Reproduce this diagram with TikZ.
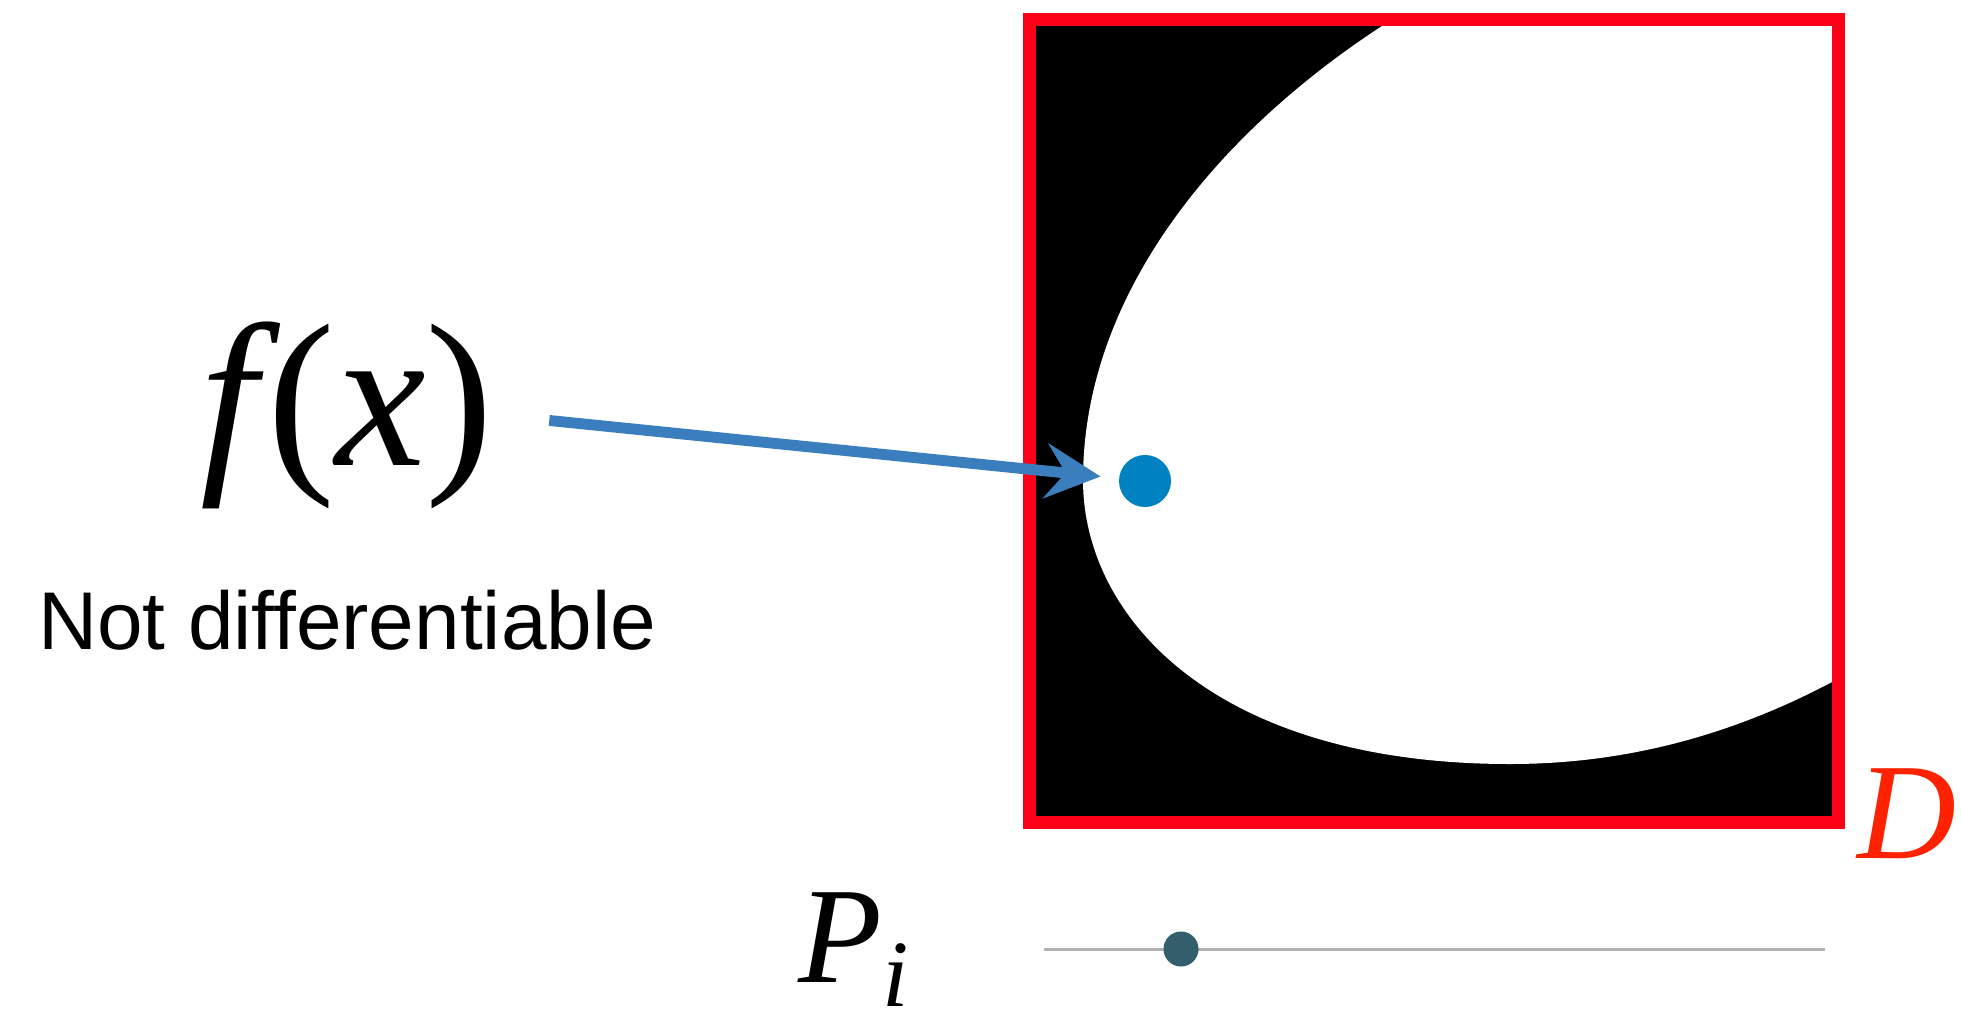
\documentclass[tikz,border=0pt]{standalone}
\usepackage{fontspec}
\newfontfamily\labelsans{Liberation Sans}
\newfontfamily\labelserif{Liberation Serif}
\definecolor{boxRed}{HTML}{FF0019}
\definecolor{labelRed}{HTML}{FF2200}
\definecolor{arrowBlue}{HTML}{3A7EBD}
\definecolor{dotBlue}{HTML}{0081C1}
\definecolor{knobTeal}{HTML}{335E6B}
\usepackage{tikz}
\usetikzlibrary{arrows.meta, positioning}

\begin{document}
\begin{tikzpicture}[x=0.01cm, y=-0.01cm,
  bigmath/.style={inner sep=0pt, font=\labelserif\fontsize{58}{66}\selectfont},
  sidemath/.style={inner sep=0pt, font=\labelserif\itshape\fontsize{39}{46}\selectfont},
  note/.style={inner sep=0pt, font=\labelsans\fontsize{23.3}{28}\selectfont},
  marker/.style={circle, inner sep=0pt, minimum size=#1},
  pointer/.style={-{Stealth[length=5.5mm, width=5.5mm, inset=2mm]},
    line width=3.1pt, draw=arrowBlue, shorten <=5.5mm, shorten >=1.8mm}]
  \useasboundingbox (0,0) rectangle (1961,1027);
  \fill[black] (1029,19.5) rectangle (1838,822);
  \fill[white] (1382,26) .. controls (1215,135) and (1083,296) .. (1083,480)
    .. controls (1083,616) and (1213,764) .. (1510,764)
    .. controls (1620,764) and (1726,738) .. (1832,682)
    -- (1838,682) -- (1838,19.5) -- (1382,19.5) -- cycle;
  \draw[boxRed, line width=3.7pt] (1029,19.5) rectangle (1838,822);
  \node[bigmath, anchor=base] (fx) at (347,465) {\textit{f\kern3pt}(\textit{x})};
  \node[note, below=8.0mm of fx] (nd) {Not differentiable};
  \node[marker=5.2mm, fill=dotBlue] (dot) at (1145,481) {};
  \draw[pointer] (fx.east) -- (dot);
  \node[sidemath, anchor=base east, text=labelRed] (dlabel) at (1957,858) {D};
  \coordinate (sl) at (1044,949);
  \coordinate (sr) at (1825,949);
  \draw[gray!62, line width=0.85pt] (sl) -- (sr);
  \node[marker=3.5mm, fill=knobTeal] (knob) at (1181,949) {};
  \node[sidemath, anchor=base west] (pi) at (798,982)
    {P\raisebox{-2.4mm}{\fontsize{27}{32}\selectfont i}};
\end{tikzpicture}
\end{document}
